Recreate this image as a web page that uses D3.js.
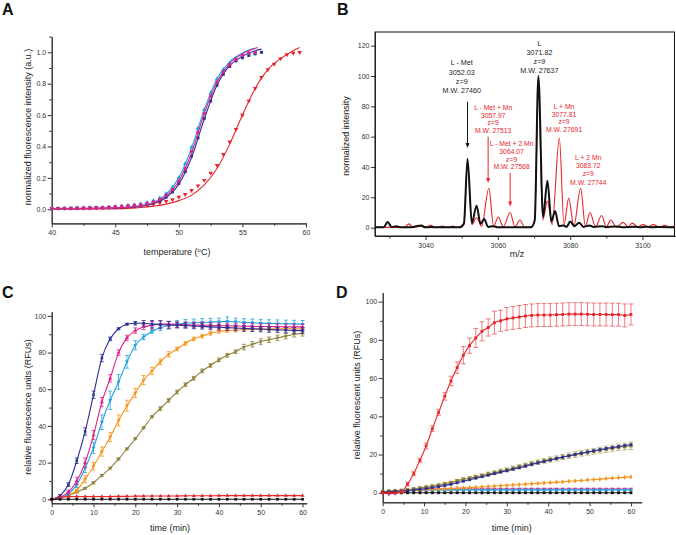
<!DOCTYPE html>
<html>
<head>
<meta charset="utf-8">
<script src="https://cdn.jsdelivr.net/npm/d3@7/dist/d3.min.js"></script>
<style>
body { margin: 0; background: #fff; }
svg { display: block; font-family: "Liberation Sans", Arial, Helvetica, sans-serif; }
.axis path, .axis line { stroke: #333; stroke-width: 1; }
.axis text { fill: #333; font-size: 7px; font-family: "Liberation Sans", Arial, sans-serif; }
</style>
</head>
<body>
<svg id="fig" width="676" height="535"></svg>
<script>
// ---------- panel A: thermal melt ----------
var tempA = [40,40.5,41,41.5,42,42.5,43,43.5,44,44.5,45,45.5,46,46.5,47,47.5,48,48.5,49,49.5,
             50,50.5,51,51.5,52,52.5,53,53.5,54,54.5,55,55.5,56,56.5,57,57.5,58,58.5,59,59.5];
var navyA = [.005,.005,.006,.006,.007,.007,.008,.009,.010,.012,.014,.016,.019,.022,.026,.032,.041,.055,.077,.11,
             .165,.24,.34,.455,.58,.69,.79,.86,.91,.945,.965,.98,.99,1.0];
var cyanA = [.006,.006,.007,.007,.008,.009,.010,.011,.012,.014,.017,.02,.024,.028,.034,.042,.055,.072,.10,.14,
             .20,.29,.395,.515,.635,.74,.83,.89,.93,.96,.98,.995,1.0];
var magentaA = [.004,.005,.005,.006,.007,.007,.008,.009,.011,.013,.016,.019,.022,.026,.031,.038,.048,.064,.09,.125,
                .18,.26,.37,.49,.61,.72,.81,.875,.92,.955,.98,.995,1.0];
var redA = [.005,.005,.006,.006,.007,.007,.008,.009,.010,.011,.012,.014,.016,.019,.024,.028,.033,.04,.05,.062,
            .077,.095,.12,.15,.185,.23,.28,.35,.43,.51,.60,.69,.77,.84,.89,.925,.96,.985,.995,1.0];
// fitted curves (temperature, value)
var navyFitA = [[40,.003],[44,.006],[46,.011],[47,.018],[48,.035],[49,.075],[50,.16],[51,.33],[52,.575],[53,.79],[54,.915],[55,.975],[56,1.01],[56.5,1.02]];
var cyanFitA = [[40,.004],[44,.008],[46,.014],[47,.024],[48,.045],[49,.095],[50,.2],[51,.39],[52,.635],[53,.83],[54,.94],[55,.995],[55.5,1.015],[56,1.025]];
var magentaFitA = [[40,.003],[44,.007],[46,.012],[47,.021],[48,.04],[49,.085],[50,.18],[51,.36],[52,.61],[53,.81],[54,.93],[55,.99],[55.5,1.01],[56.2,1.03]];
var redFitA = [[40,0],[44,.002],[46,.006],[47,.011],[48,.02],[49,.033],[50,.055],[51,.09],[52,.155],[53,.26],[54,.415],[55,.6],[56,.77],[57,.89],[58,.96],[59,1.01],[59.5,1.03]];
var xTicksA = [40,45,50,55,60], xMinorA = [42.5,47.5,52.5,57.5];
var yTicksA = [0,0.2,0.4,0.6,0.8,1.0], yMinorA = [0.1,0.3,0.5,0.7,0.9,1.1];

// ---------- panel B: mass spectrum (m/z, intensity) ----------
var blackB = [[3026,.2],[3028.4,.2],[3029.5,3.8],[3030.6,.3],[3031.9,1],[3033,.2],[3036,.3],[3038.8,1.5],[3039.9,.2],
  [3041.5,.4],[3043,.2],[3049.5,.2],[3050.6,2.5],[3051.6,45.5],[3052.8,3],[3054.1,14.5],[3055.2,2.5],[3056.2,5.7],
  [3057.3,.5],[3058.8,1],[3060,.2],[3069.2,.2],[3070.2,5],[3071.2,100],[3072.5,7],[3073.7,31],[3074.8,4],[3075.8,11],
  [3076.9,1],[3078.2,1.5],[3079,.5],[3080,4],[3081.2,1],[3082.5,3.3],[3083.7,.5],[3085.3,1.5],[3086.5,.4],[3088.8,1],
  [3090,.3],[3092.3,.8],[3094.5,.3],[3097.8,.6],[3099.5,.3],[3101,.6],[3103,.3],[3104.5,.5],[3109,.3]];
var redB = [[3026,.2],[3034,.2],[3035.4,2.5],[3036.6,.2],[3038.6,1],[3039.8,.2],[3041.5,1.5],[3042.7,.2],[3044.8,1],
  [3046,.3],[3047.5,1],[3049,.2],[3050.6,3],[3051.6,44],[3052.8,2],[3054.1,6.5],[3055.5,1],[3057.5,26],[3058.8,1],
  [3060.1,7],[3061.5,.5],[3063.4,10],[3064.7,.5],[3066.1,5],[3067.4,.3],[3069.2,.3],[3070.2,5],[3071.2,96],[3072.4,5],
  [3073.7,17.5],[3075,2],[3077,59],[3078.3,2],[3079.6,19.5],[3081,1],[3082.9,26],[3084.2,1],[3085.5,10],[3087,.5],
  [3088.7,8],[3090,.5],[3091.2,5],[3092.8,.5],[3094.7,3.5],[3096,.5],[3097.2,3],[3098.7,.5],[3100.2,2],[3101.6,.5],
  [3103,2],[3104.6,.5],[3106.2,1.5],[3107.6,.5],[3109,1]];
var xTicksB = [3040,3060,3080,3100], xMinorB = [3030,3050,3070,3090];
var yTicksB = [0,20,40,60,80,100,120];
var annotB = [
  {lines: ["L - Met", "3052.03", "z=9", "M.W. 27460"], mz: 3050.0, top: 107.1, lead: 9.3, red: false},
  {lines: ["L", "3071.82", "z=9", "M.W. 27637"], mz: 3071.5, top: 119.8, lead: 9, red: false},
  {lines: ["L - Met + Mn", "3057.97", "z=9", "M.W. 27513"], mz: 3058.7, top: 77.5, lead: 7.6, red: true},
  {lines: ["L - Met + 2 Mn", "3064.07", "z=9", "M.W. 27568"], mz: 3063.8, top: 53.6, lead: 7.6, red: true},
  {lines: ["L + Mn", "3077.81", "z=9", "M.W. 27691"], mz: 3078.3, top: 78.2, lead: 7.6, red: true},
  {lines: ["L + 2 Mn", "3083.72", "z=9", "M.W. 27744"], mz: 3085.0, top: 44.8, lead: 8.3, red: true}
];
var arrowsB = [
  {mz: 3051.6, from: 83, to: 52.5, red: false},
  {mz: 3057.3, from: 60, to: 29.5, red: true},
  {mz: 3063.4, from: 36, to: 14, red: true}
];

// ---------- panel C: kinetics ----------
var timeC = [0,2,4,6,8,10,12,14,16,18,20,22,24,26,28,30,32,34,36,38,40,42,44,46,48,50,52,54,56,58,60];
var navyC = [0,2,8,21,37,57,77,87.5,93,95.5,96,96,95.5,95.3,95,95,94.8,94.5,94.3,94,93.8,93.6,93.4,93.2,93,92.8,92.6,92.4,92.3,92.1,92];
var magentaC = [0,1,4,10,20,35,53,66,80,88,92,94,95,95.5,95.5,95.3,95.2,95,95,94.8,94.7,94.6,94.5,94.4,94.3,94.2,94.2,94.1,94,94,94];
var cyanC = [0,.5,3,8,17,28,42,54,64,75,84,88.5,91.5,93.5,95,95.5,96,96.3,96.5,96.7,96.8,97,96.8,96.5,96.3,96,95.9,95.8,95.7,95.6,95.5];
var orangeC = [0,.5,2,5,11,18,26,34,43,51,58,65,70,75,79,82,85,87.5,89,90.5,91.5,92,92.3,92.5,92.7,92.8,92.9,93,93,93,93];
var oliveC = [0,.5,2,4,6,9,13,17,22,27.5,33,39,45,49.5,54,58.5,62.5,66,70,73,76,78.5,80.5,83,84.5,86,87,88,89,90,90.5];
var redC = [0,1,1.5,1.5,1.5,1.5,1.5,1.5,1.6,1.6,1.7,1.7,1.8,1.8,1.8,1.8,1.9,1.9,1.9,1.9,2,2,2,2,2,2,2,2,2,2,2];
var blackC = [0,0,0,0,0,0,0,0,0,0,0,0,0,0,0,0,0,0,0,0,0,0,0,0,0,0,0,0,0,0,0];
var navyErrC = [0,.5,1,1.5,2,2,2,1,.5,.5,1,1.5,2,2,2,1.5,1.5,1.5,1.5,1.5,1.5,1.5,1.5,1.5,1.5,1.5,1.5,1.5,1.5,1.5,1.5];
var magentaErrC = [0,.5,1,2,2.5,2.5,2.5,2,1.5,1.5,1.5,1.5,2,2,1.5,1.5,1.5,1.5,1.5,1.5,1.5,1.5,1.5,1.5,1.5,1.5,1.5,1.5,1.5,1.5,1.5];
var cyanErrC = [0,.5,1,1.5,2.5,3,4,5,4,3.5,2.5,1.5,1,1.5,2,2,2,2,2,2,2,2.5,2,2,2,2,2,2,2,2,2];
var orangeErrC = [0,.5,1,1.5,2,2,2.5,2.5,3,3,2.5,2.5,2,1.5,1.5,1,1,1,1,1,1,1,1,1,1,1,1,1,1,1,1];
var oliveErrC = [0,.5,.5,.5,.5,.5,.5,.5,.5,.5,.5,.5,.5,1,1,1,1,1,1,1,1,1,1,1.5,1.5,1.5,1.5,1.5,1.5,1.5,1.5];
var xTicksC = [0,10,20,30,40,50,60], xMinorC = [5,15,25,35,45,55];
var yTicksC = [0,20,40,60,80,100], yMinorC = [10,30,50,70,90];

// ---------- panel D: kinetics ----------
var timeD = [0,1.5,3,4.5,6,7.5,9,10.5,12,13.5,15,16.5,18,19.5,21,22.5,24,25.5,27,28.5,30,31.5,33,34.5,36,37.5,39,40.5,
             42,43.5,45,46.5,48,49.5,51,52.5,54,55.5,57,58.5,60];
var redD = [0,0,0,.5,4.5,10,17,24.5,33.5,42,50.5,58.5,65.5,72,77,81,84.5,86.5,89,90,91,91.5,92,92.5,92.8,93,93,93,
            93.2,93.3,93.5,93.5,93.5,93.4,93.3,93.3,93.3,93.2,93.2,92.8,93.3];
var redErrD = [0,0,0,.5,1,1,1,1.5,1.5,1.5,2,2.5,3,4.5,4,5,5,4.5,6,5.5,6,6,6,6,6,6,6,6,6,6,6,6,6,6,6,6,6,6,6,6,5.5];
var oliveD = [.5,.8,1,1.2,1.5,2,2.5,3,3.5,4,4.7,5.3,6.2,7,7.6,8.3,9,9.8,10.5,11.3,12,12.8,13.6,14.4,15.2,16,16.7,17.4,
              18,18.7,19.4,20,20.6,21.2,21.7,22.3,22.8,23.3,23.8,24.2,24.6];
var oliveErrD = [.3,.3,.3,.3,.4,.4,.5,.5,.5,.6,.6,.7,.7,.8,.8,.9,.9,1,1,1,1,1.1,1.1,1.1,1.2,1.2,1.2,1.3,1.3,1.3,
                 1.4,1.4,1.4,1.5,1.5,1.5,1.6,1.6,1.7,1.8,2];
var navyD = [.3,.5,.7,.9,1.1,1.4,1.8,2.2,2.7,3.2,3.8,4.4,5.2,6,6.8,7.6,8.4,9.2,10,10.8,11.5,12.3,13.1,13.9,14.8,15.6,
             16.4,17.1,17.9,18.6,19.3,20,20.7,21.3,22,22.6,23.2,23.7,24.2,24.7,25.2];
var orangeD = [.2,.4,.7,.9,1.1,1.3,1.5,1.6,1.8,2,2.1,2.2,2.4,2.6,2.7,2.9,3.1,3.3,3.5,3.7,3.9,4.1,4.3,4.5,4.7,4.9,5.1,
               5.3,5.5,5.7,6,6.2,6.4,6.7,6.9,7.1,7.4,7.6,7.9,8.1,8.3];
var magentaD = [0,-.5,-.3,.5,1,1.3,1.5,1.7,1.8,1.9,2,2,2,2,2,2,2,2,2,2,2,2,2,2,2,2,2,2,2,2,2,2,2,2,2,2,2,2,2,2,2];
var cyanD = [.5,.8,1,1.1,1.2,1.3,1.3,1.4,1.4,1.4,1.5,1.5,1.5,1.5,1.5,1.5,1.5,1.5,1.5,1.5,1.5,1.5,1.5,1.5,1.5,1.5,
             1.5,1.5,1.5,1.5,1.5,1.5,1.5,1.5,1.5,1.5,1.5,1.5,1.5,1.5,1.5];
var blackD = [0,0,0,0,0,0,0,0,0,0,0,0,0,0,0,0,0,0,0,0,0,0,0,0,0,0,0,0,0,0,0,0,0,0,0,0,0,0,0,0,0];
var xTicksD = [0,10,20,30,40,50,60], xMinorD = [5,15,25,35,45,55];
var yTicksD = [0,20,40,60,80,100], yMinorD = [10,30,50,70,90];

var NAVY = "#2e3192", MAGENTA = "#e0228b", CYAN = "#1fa3dd", RED = "#e8252b",
    ORANGE = "#f7941d", OLIVE = "#8f8138", BLACK = "#111";

var svg = d3.select("#fig");

function axes(g, x, y, o) {
  var X0 = x.range()[0], Y0 = y.range()[0];
  if (o.xMinor) g.append("g").attr("class", "axis").attr("transform", "translate(0," + Y0 + ")")
    .call(d3.axisBottom(x).tickValues(o.xMinor).tickSize(2.5).tickSizeOuter(0).tickFormat(""));
  g.append("g").attr("class", "axis").attr("transform", "translate(0," + Y0 + ")")
    .call(d3.axisBottom(x).tickValues(o.xTicks).tickSize(4).tickSizeOuter(0).tickPadding(3).tickFormat(o.xFmt || d3.format("d")));
  if (o.yMinor) g.append("g").attr("class", "axis").attr("transform", "translate(" + X0 + ",0)")
    .call(d3.axisLeft(y).tickValues(o.yMinor).tickSize(2.5).tickSizeOuter(0).tickFormat(""));
  g.append("g").attr("class", "axis").attr("transform", "translate(" + X0 + ",0)")
    .call(d3.axisLeft(y).tickValues(o.yTicks).tickSize(4).tickSizeOuter(0).tickPadding(1.5).tickFormat(o.yFmt || d3.format("d")));
}

function titles(g, xt, xx, xy, yt, yx, yy) {
  var t = g.append("text").attr("x", xx).attr("y", xy).attr("text-anchor", "middle")
    .attr("font-size", 9).attr("fill", "#222");
  if (typeof xt === "string") t.text(xt); else xt(t);
  g.append("text").attr("transform", "translate(" + yx + "," + yy + ") rotate(-90)")
    .attr("text-anchor", "middle").attr("dy", "0.35em").attr("font-size", 9).attr("fill", "#222").text(yt);
}

function letter(t, x, y) {
  svg.append("text").attr("x", x).attr("y", y).attr("font-size", 16).attr("font-weight", "bold")
    .attr("fill", "#111").text(t);
}

function series(g, x, y, xs, ys, errs, o) {
  var pts = ys.map(function (v, i) { return [xs[i], v, errs ? errs[i] : 0]; });
  var cw = o.cap || 2;
  if (o.line !== false && !o.lineOnTop) drawLine();
  if (errs) {
    g.append("g").selectAll("path").data(pts.filter(function (p) { return p[2] > 0; })).join("path")
      .attr("d", function (p) {
        var px = x(p[0]), t = y(p[1] + p[2]), b = y(p[1] - p[2]);
        return "M" + (px - cw) + "," + t + "h" + 2 * cw + "M" + px + "," + t + "V" + b + "M" + (px - cw) + "," + b + "h" + 2 * cw;
      })
      .attr("fill", "none").attr("stroke", o.errColor || o.color).attr("stroke-width", 0.8);
  }
  var sym = d3.symbol().type(o.shape || d3.symbolSquare).size(o.size || 8);
  g.append("g").selectAll("path").data(pts).join("path")
    .attr("transform", function (p) { return "translate(" + x(p[0]) + "," + y(p[1]) + ")" + (o.flip ? " rotate(180)" : ""); })
    .attr("d", sym).attr("fill", o.markColor || o.color);
  if (o.lineOnTop) drawLine();
  function drawLine() {
    g.append("path").datum(o.fit || pts)
      .attr("d", d3.line().x(function (p) { return x(p[0]); }).y(function (p) { return y(p[1]); }).curve(d3.curveMonotoneX))
      .attr("fill", "none").attr("stroke", o.lineColor || o.color).attr("stroke-width", o.lw || 1.2);
  }
}

// ================= A =================
(function () {
  var g = svg.append("g");
  var x = d3.scaleLinear([40, 60], [51.7, 306]);
  var y = d3.scaleLinear([-0.09, 1.1], [223.4, 36.6]);
  axes(g, x, y, {xTicks: xTicksA, xMinor: xMinorA, yTicks: yTicksA, yMinor: yMinorA, yFmt: d3.format(".1f")});
  titles(g, function (t) {
    t.append("tspan").text("temperature (");
    t.append("tspan").attr("font-size", 6).attr("dy", -3).text("o");
    t.append("tspan").attr("dy", 3).text("C)");
  }, 177, 255, "normalized fluorescence intensity (a.u.)", 28, 127);
  var d = [
    {v: redA, fit: redFitA, c: RED, shape: d3.symbolTriangle, flip: true},
    {v: navyA, fit: navyFitA, c: NAVY, shape: d3.symbolSquare},
    {v: cyanA, fit: cyanFitA, c: CYAN, shape: d3.symbolTriangle},
    {v: magentaA, fit: magentaFitA, c: MAGENTA, shape: d3.symbolSquare}
  ];
  d.forEach(function (s) {
    series(g, x, y, tempA, s.v, null, {color: s.c, shape: s.shape, flip: s.flip, size: 9, fit: s.fit, lineOnTop: true, lw: 1.1});
  });
  letter("A", 2, 15);
})();

// ================= B =================
(function () {
  var g = svg.append("g");
  var x = d3.scaleLinear([3026, 3109], [375, 675]);
  var y = d3.scaleLinear([-5.5, 129], [236, 32]);
  axes(g, x, y, {xTicks: xTicksB, xMinor: xMinorB, yTicks: yTicksB});
  g.append("rect").attr("x", 375).attr("y", 32).attr("width", 299.5).attr("height", 204)
    .attr("fill", "none").attr("stroke", "#111").attr("stroke-width", 1);
  titles(g, "m/z", 517, 257, "normalized intensity", 346, 136);
  g.append("clipPath").attr("id", "clipB").append("rect").attr("x", 375).attr("y", 32).attr("width", 300).attr("height", 204);
  var line = d3.line().x(function (p) { return x(p[0]); }).y(function (p) { return y(p[1]); }).curve(d3.curveMonotoneX);
  var pg = g.append("g").attr("clip-path", "url(#clipB)");
  pg.append("path").datum(redB).attr("d", line).attr("fill", "none").attr("stroke", RED).attr("stroke-width", 1.1);
  pg.append("path").datum(blackB).attr("d", line).attr("fill", "none").attr("stroke", BLACK).attr("stroke-width", 2);

  annotB.forEach(function (a) {
    var t = g.append("text").attr("text-anchor", "middle").attr("font-size", a.red ? 6.8 : 7.2)
      .attr("fill", a.red ? RED : "#222");
    a.lines.forEach(function (l, i) {
      t.append("tspan").attr("x", x(a.mz)).attr("y", y(a.top) + i * a.lead).text(l);
    });
  });
  arrowsB.forEach(function (a) {
    var c = a.red ? RED : BLACK, px = x(a.mz), y1 = y(a.from), y2 = y(a.to);
    g.append("line").attr("x1", px).attr("x2", px).attr("y1", y1).attr("y2", y2 - 4)
      .attr("stroke", c).attr("stroke-width", 1);
    g.append("path").attr("d", "M" + (px - 2) + "," + (y2 - 5) + "L" + (px + 2) + "," + (y2 - 5) + "L" + px + "," + y2 + "Z").attr("fill", c);
  });
  letter("B", 337, 15);
})();

// ================= C =================
(function () {
  var g = svg.append("g");
  var x = d3.scaleLinear([0, 61], [51.7, 306.7]);
  var y = d3.scaleLinear([-2.2, 102.3], [503.3, 311.7]);
  axes(g, x, y, {xTicks: xTicksC, xMinor: xMinorC, yTicks: yTicksC, yMinor: yMinorC});
  titles(g, "time (min)", 170, 531, "relative fluorescence units (RFUs)", 28, 407);
  var d = [
    {v: oliveC, e: oliveErrC, c: OLIVE, shape: d3.symbolTriangle, flip: true},
    {v: orangeC, e: orangeErrC, c: ORANGE, shape: d3.symbolTriangle, flip: true},
    {v: cyanC, e: cyanErrC, c: CYAN, shape: d3.symbolTriangle, flip: true},
    {v: magentaC, e: magentaErrC, c: MAGENTA, shape: d3.symbolTriangle},
    {v: navyC, e: navyErrC, c: NAVY, shape: d3.symbolSquare},
    {v: redC, e: null, c: RED, shape: d3.symbolTriangle},
    {v: blackC, e: null, c: BLACK, shape: d3.symbolSquare}
  ];
  d.forEach(function (s) {
    series(g, x, y, timeC, s.v, s.e, {color: s.c, shape: s.shape, flip: s.flip, size: 7, cap: 2, lw: 1.1});
  });
  letter("C", 2, 298);
})();

// ================= D =================
(function () {
  var g = svg.append("g");
  var x = d3.scaleLinear([0, 62.6], [382.7, 641.7]);
  var y = d3.scaleLinear([-5, 104.7], [502.3, 292.7]);
  axes(g, x, y, {xTicks: xTicksD, xMinor: xMinorD, yTicks: yTicksD, yMinor: yMinorD});
  titles(g, "time (min)", 511.7, 531, "relative fluorescent units (RFUs)", 356.7, 395);
  var d = [
    {v: magentaD, e: null, c: MAGENTA, shape: d3.symbolTriangle, flip: true},
    {v: cyanD, e: null, c: CYAN, shape: d3.symbolTriangle},
    {v: orangeD, e: null, c: ORANGE, shape: d3.symbolDiamond},
    {v: oliveD, e: oliveErrD, c: OLIVE, shape: d3.symbolSquare, size: 12, ec: "#b3a76a"},
    {v: navyD, e: null, c: NAVY, shape: d3.symbolSquare},
    {v: blackD, e: null, c: BLACK, shape: d3.symbolSquare},
    {v: redD, e: redErrD, c: RED, shape: d3.symbolSquare, ec: "#ef5a60"}
  ];
  d.forEach(function (s) {
    series(g, x, y, timeD, s.v, s.e, {color: s.c, shape: s.shape, flip: s.flip, size: s.size || 8, cap: 2.5, lw: 1.1, errColor: s.ec});
  });
  letter("D", 336, 298);
})();
</script>
</body>
</html>
